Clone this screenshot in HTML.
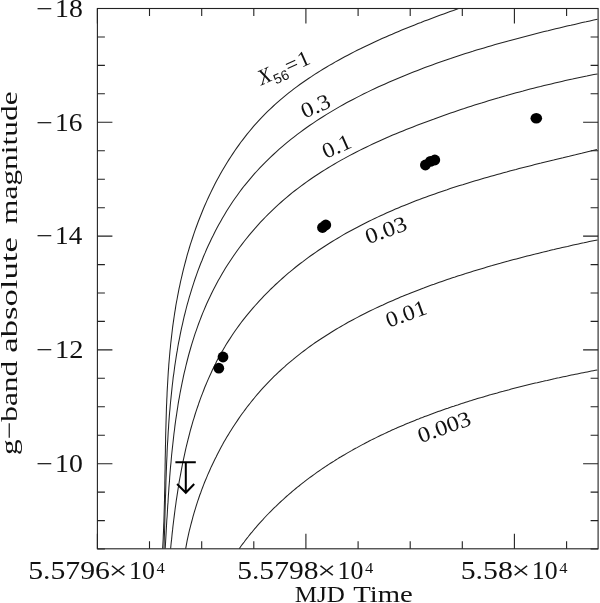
<!DOCTYPE html>
<html><head><meta charset="utf-8"><title>g-band absolute magnitude vs MJD Time</title>
<style>html,body{margin:0;padding:0;background:#fff}svg{display:block}text{font-family:"Liberation Serif","DejaVu Serif",serif;fill:#111}.s{font-family:"Liberation Sans","DejaVu Sans",sans-serif}</style></head><body>
<svg width="600" height="603" viewBox="0 0 600 603">
<rect x="0" y="0" width="600" height="603" fill="#fff"/>
<defs><clipPath id="c"><rect x="97.4" y="8.5" width="500.7" height="540.3"/></clipPath></defs>
<g fill="none" stroke="#222" stroke-width="1.05" clip-path="url(#c)">
<path d="M162.6 548.9 L162.8 545.5 L163.0 542.0 L163.2 538.5 L163.3 535.1 L163.5 531.6 L163.6 528.1 L163.7 524.7 L163.9 521.2 L164.0 517.7 L164.1 514.3 L164.2 510.8 L164.3 507.3 L164.4 503.8 L164.5 500.4 L164.5 496.9 L164.6 493.4 L164.7 489.9 L164.8 486.4 L164.8 483.0 L164.9 479.5 L164.9 476.0 L165.0 472.5 L165.1 469.0 L165.1 465.5 L165.2 462.1 L165.2 458.6 L165.3 455.1 L165.4 451.6 L165.4 448.1 L165.5 444.6 L165.6 441.2 L165.6 437.7 L165.7 434.2 L165.8 430.7 L165.9 427.2 L166.0 423.7 L166.1 420.3 L166.2 416.8 L166.3 413.3 L166.4 409.8 L166.5 406.3 L166.7 402.8 L166.8 399.4 L167.0 395.9 L167.1 392.4 L167.3 388.9 L167.5 385.5 L167.7 382.0 L167.9 378.5 L168.1 375.0 L168.3 371.6 L168.6 368.1 L168.8 364.6 L169.1 361.2 L169.4 357.7 L169.7 354.2 L170.0 350.8 L170.4 347.3 L170.7 343.8 L171.1 340.4 L171.5 336.9 L171.9 333.5 L172.3 330.0 L172.7 326.6 L173.2 323.1 L173.7 319.7 L174.2 316.2 L174.7 312.8 L175.3 309.3 L175.8 305.9 L176.4 302.5 L177.1 299.0 L177.7 295.6 L178.4 292.2 L179.0 288.8 L179.8 285.3 L180.5 281.9 L181.3 278.5 L182.1 275.1 L182.9 271.7 L183.7 268.3 L184.6 264.9 L185.5 261.5 L186.4 258.1 L187.3 254.7 L188.3 251.4 L189.3 248.0 L190.3 244.6 L191.4 241.3 L192.5 238.0 L193.6 234.6 L194.7 231.3 L195.9 228.0 L197.1 224.8 L198.3 221.5 L199.6 218.2 L200.9 215.0 L202.2 211.7 L203.5 208.5 L204.9 205.3 L206.3 202.1 L207.7 198.9 L209.2 195.8 L210.7 192.6 L212.2 189.5 L213.7 186.4 L215.3 183.3 L216.9 180.3 L218.6 177.2 L220.2 174.2 L221.9 171.2 L223.7 168.2 L225.5 165.2 L227.3 162.3 L229.1 159.4 L231.0 156.5 L232.9 153.6 L234.8 150.7 L236.8 147.9 L238.8 145.1 L240.8 142.3 L242.9 139.6 L245.0 136.9 L247.1 134.2 L249.3 131.5 L251.5 128.9 L253.7 126.2 L256.0 123.7 L258.3 121.1 L260.6 118.6 L263.0 116.1 L265.4 113.6 L267.9 111.2 L270.4 108.8 L272.9 106.5 L275.4 104.1 L278.0 101.8 L280.6 99.6 L283.3 97.3 L286.0 95.1 L288.7 92.9 L291.4 90.8 L294.2 88.7 L297.0 86.6 L299.8 84.5 L302.7 82.5 L305.6 80.5 L308.5 78.5 L311.4 76.6 L314.3 74.6 L317.3 72.8 L320.3 70.9 L323.3 69.0 L326.3 67.2 L329.3 65.4 L332.4 63.7 L335.4 61.9 L338.5 60.2 L341.6 58.5 L344.7 56.8 L347.8 55.2 L351.0 53.5 L354.1 51.9 L357.2 50.3 L360.4 48.8 L363.5 47.2 L366.7 45.7 L369.9 44.2 L373.0 42.7 L376.2 41.2 L379.4 39.8 L382.6 38.3 L385.8 36.9 L389.0 35.5 L392.2 34.2 L395.4 32.8 L398.6 31.4 L401.8 30.1 L405.0 28.8 L408.2 27.5 L411.4 26.2 L414.7 24.9 L417.9 23.6 L421.1 22.4 L424.3 21.1 L427.6 19.9 L430.8 18.7 L434.0 17.5 L437.2 16.3 L440.5 15.1 L443.7 13.9 L446.9 12.7 L450.1 11.5 L453.4 10.4 L456.6 9.2 L459.8 8.1 L463.0 6.9 L466.2 5.8 L469.4 4.6"/>
<path d="M164.0 548.8 L164.1 545.0 L164.2 541.1 L164.3 537.3 L164.5 533.4 L164.6 529.6 L164.7 525.7 L164.8 521.8 L164.9 517.9 L165.0 514.1 L165.1 510.2 L165.2 506.3 L165.3 502.4 L165.4 498.5 L165.6 494.6 L165.7 490.7 L165.8 486.8 L165.9 482.9 L166.0 479.0 L166.2 475.1 L166.3 471.2 L166.5 467.2 L166.6 463.3 L166.8 459.4 L167.0 455.5 L167.1 451.6 L167.3 447.7 L167.5 443.8 L167.8 439.9 L168.0 435.9 L168.2 432.0 L168.5 428.1 L168.7 424.2 L169.0 420.3 L169.3 416.4 L169.6 412.5 L170.0 408.6 L170.3 404.7 L170.7 400.8 L171.1 396.9 L171.5 393.0 L171.9 389.1 L172.3 385.2 L172.8 381.3 L173.2 377.4 L173.8 373.6 L174.3 369.7 L174.8 365.8 L175.4 362.0 L176.0 358.1 L176.6 354.2 L177.3 350.4 L177.9 346.5 L178.6 342.7 L179.4 338.9 L180.1 335.1 L180.9 331.2 L181.7 327.4 L182.6 323.6 L183.4 319.8 L184.3 316.0 L185.3 312.2 L186.2 308.5 L187.2 304.7 L188.3 300.9 L189.3 297.2 L190.5 293.4 L191.6 289.7 L192.8 285.9 L194.0 282.2 L195.2 278.5 L196.5 274.8 L197.8 271.1 L199.2 267.5 L200.6 263.8 L202.1 260.2 L203.5 256.5 L205.1 252.9 L206.6 249.3 L208.2 245.8 L209.9 242.2 L211.5 238.7 L213.3 235.2 L215.0 231.7 L216.8 228.2 L218.7 224.8 L220.6 221.4 L222.5 218.0 L224.5 214.7 L226.5 211.3 L228.6 208.0 L230.7 204.8 L232.8 201.5 L235.1 198.3 L237.3 195.2 L239.6 192.0 L241.9 188.9 L244.3 185.8 L246.8 182.8 L249.3 179.8 L251.8 176.9 L254.3 173.9 L257.0 171.0 L259.6 168.2 L262.3 165.4 L265.0 162.6 L267.8 159.9 L270.6 157.1 L273.4 154.5 L276.3 151.8 L279.2 149.2 L282.2 146.7 L285.1 144.2 L288.1 141.7 L291.2 139.2 L294.2 136.8 L297.3 134.4 L300.4 132.1 L303.6 129.8 L306.7 127.5 L309.9 125.3 L313.2 123.1 L316.4 120.9 L319.7 118.8 L322.9 116.7 L326.2 114.6 L329.6 112.6 L332.9 110.6 L336.3 108.6 L339.7 106.6 L343.1 104.7 L346.5 102.8 L349.9 101.0 L353.4 99.2 L356.9 97.4 L360.4 95.6 L363.9 93.8 L367.4 92.1 L370.9 90.4 L374.4 88.7 L378.0 87.1 L381.5 85.5 L385.1 83.9 L388.7 82.3 L392.3 80.7 L395.9 79.2 L399.5 77.7 L403.1 76.2 L406.7 74.7 L410.3 73.3 L414.0 71.8 L417.6 70.4 L421.2 69.0 L424.9 67.6 L428.5 66.3 L432.2 64.9 L435.9 63.6 L439.5 62.3 L443.2 61.0 L446.9 59.7 L450.6 58.5 L454.3 57.2 L458.0 56.0 L461.7 54.8 L465.4 53.6 L469.1 52.4 L472.8 51.3 L476.5 50.1 L480.3 49.0 L484.0 47.9 L487.7 46.8 L491.5 45.7 L495.2 44.6 L499.0 43.5 L502.7 42.5 L506.5 41.4 L510.2 40.4 L514.0 39.4 L517.8 38.4 L521.5 37.4 L525.3 36.4 L529.1 35.4 L532.9 34.4 L536.6 33.5 L540.4 32.5 L544.2 31.6 L548.0 30.7 L551.8 29.7 L555.6 28.8 L559.4 27.9 L563.2 27.0 L567.0 26.1 L570.8 25.3 L574.6 24.4 L578.4 23.5 L582.2 22.6 L586.1 21.8 L589.9 20.9 L593.7 20.1 L597.5 19.3"/>
<path d="M165.2 548.7 L165.4 545.2 L165.6 541.7 L165.8 538.1 L166.0 534.6 L166.2 531.0 L166.4 527.5 L166.6 523.9 L166.8 520.3 L167.1 516.8 L167.3 513.2 L167.5 509.6 L167.7 506.0 L168.0 502.4 L168.2 498.8 L168.4 495.2 L168.7 491.5 L168.9 487.9 L169.2 484.3 L169.5 480.7 L169.7 477.0 L170.0 473.4 L170.3 469.7 L170.6 466.1 L171.0 462.5 L171.3 458.8 L171.6 455.2 L172.0 451.5 L172.4 447.9 L172.8 444.2 L173.2 440.6 L173.6 437.0 L174.0 433.3 L174.5 429.7 L174.9 426.1 L175.4 422.4 L175.9 418.8 L176.5 415.2 L177.0 411.6 L177.6 407.9 L178.1 404.3 L178.7 400.7 L179.4 397.1 L180.0 393.5 L180.7 389.9 L181.4 386.4 L182.1 382.8 L182.9 379.2 L183.6 375.7 L184.4 372.1 L185.3 368.6 L186.1 365.0 L187.0 361.5 L187.9 358.0 L188.8 354.5 L189.8 351.0 L190.8 347.5 L191.8 344.1 L192.9 340.6 L194.0 337.2 L195.1 333.7 L196.3 330.3 L197.5 326.9 L198.7 323.5 L200.0 320.1 L201.3 316.8 L202.6 313.4 L204.0 310.1 L205.4 306.8 L206.8 303.5 L208.3 300.2 L209.9 296.9 L211.4 293.7 L213.0 290.4 L214.7 287.2 L216.4 284.0 L218.1 280.8 L219.9 277.7 L221.7 274.5 L223.5 271.4 L225.4 268.3 L227.3 265.3 L229.3 262.2 L231.3 259.2 L233.3 256.2 L235.4 253.2 L237.5 250.2 L239.7 247.3 L241.9 244.4 L244.1 241.5 L246.3 238.7 L248.6 235.9 L250.9 233.1 L253.3 230.3 L255.7 227.6 L258.1 224.9 L260.5 222.2 L263.0 219.6 L265.5 217.0 L268.1 214.4 L270.7 211.8 L273.3 209.3 L275.9 206.8 L278.6 204.4 L281.3 202.0 L284.0 199.6 L286.7 197.3 L289.5 195.0 L292.3 192.7 L295.1 190.5 L298.0 188.3 L300.9 186.1 L303.8 184.0 L306.7 181.9 L309.7 179.8 L312.6 177.7 L315.6 175.7 L318.7 173.7 L321.7 171.8 L324.8 169.9 L327.8 168.0 L330.9 166.1 L334.1 164.2 L337.2 162.4 L340.3 160.6 L343.5 158.9 L346.7 157.1 L349.9 155.4 L353.1 153.7 L356.4 152.0 L359.6 150.4 L362.9 148.8 L366.1 147.2 L369.4 145.6 L372.7 144.0 L376.0 142.5 L379.4 141.0 L382.7 139.5 L386.0 138.0 L389.4 136.6 L392.7 135.1 L396.1 133.7 L399.5 132.3 L402.9 130.9 L406.2 129.6 L409.6 128.2 L413.0 126.9 L416.4 125.6 L419.8 124.2 L423.2 123.0 L426.7 121.7 L430.1 120.4 L433.5 119.2 L436.9 117.9 L440.3 116.7 L443.7 115.5 L447.2 114.3 L450.6 113.1 L454.0 111.9 L457.4 110.8 L460.9 109.6 L464.3 108.5 L467.7 107.3 L471.2 106.2 L474.6 105.1 L478.1 104.0 L481.5 103.0 L484.9 101.9 L488.4 100.8 L491.9 99.8 L495.3 98.8 L498.8 97.8 L502.2 96.7 L505.7 95.8 L509.2 94.8 L512.7 93.8 L516.1 92.8 L519.6 91.9 L523.1 91.0 L526.6 90.0 L530.1 89.1 L533.6 88.2 L537.1 87.3 L540.6 86.5 L544.1 85.6 L547.7 84.7 L551.2 83.9 L554.7 83.1 L558.3 82.2 L561.8 81.4 L565.3 80.6 L568.9 79.8 L572.5 79.1 L576.0 78.3 L579.6 77.5 L583.2 76.8 L586.8 76.1 L590.3 75.3 L593.9 74.6 L597.5 73.9"/>
<path d="M170.6 548.9 L170.9 545.8 L171.2 542.6 L171.6 539.4 L171.9 536.3 L172.2 533.1 L172.6 529.9 L172.9 526.7 L173.3 523.5 L173.7 520.3 L174.1 517.1 L174.5 513.9 L174.9 510.7 L175.3 507.5 L175.8 504.3 L176.2 501.0 L176.7 497.8 L177.2 494.6 L177.7 491.4 L178.2 488.2 L178.7 485.0 L179.2 481.7 L179.8 478.5 L180.4 475.3 L181.0 472.1 L181.6 468.9 L182.2 465.7 L182.8 462.5 L183.5 459.3 L184.2 456.1 L184.9 452.9 L185.6 449.7 L186.3 446.5 L187.1 443.3 L187.9 440.1 L188.7 437.0 L189.5 433.8 L190.3 430.7 L191.2 427.5 L192.1 424.4 L193.0 421.2 L194.0 418.1 L194.9 415.0 L195.9 411.9 L196.9 408.8 L198.0 405.8 L199.0 402.7 L200.1 399.6 L201.2 396.6 L202.4 393.6 L203.6 390.5 L204.7 387.5 L206.0 384.5 L207.2 381.6 L208.5 378.6 L209.8 375.7 L211.2 372.7 L212.5 369.8 L213.9 366.9 L215.4 364.0 L216.8 361.1 L218.3 358.3 L219.9 355.5 L221.4 352.6 L223.0 349.9 L224.7 347.1 L226.3 344.3 L228.0 341.6 L229.8 338.9 L231.5 336.2 L233.3 333.5 L235.2 330.8 L237.0 328.2 L238.9 325.6 L240.8 323.0 L242.8 320.4 L244.8 317.9 L246.8 315.4 L248.9 312.8 L251.0 310.4 L253.1 307.9 L255.2 305.5 L257.4 303.1 L259.6 300.7 L261.8 298.3 L264.0 295.9 L266.3 293.6 L268.6 291.3 L270.9 289.0 L273.2 286.8 L275.6 284.5 L278.0 282.3 L280.4 280.2 L282.8 278.0 L285.2 275.9 L287.7 273.7 L290.2 271.7 L292.7 269.6 L295.2 267.5 L297.7 265.5 L300.3 263.5 L302.9 261.6 L305.5 259.6 L308.1 257.7 L310.7 255.8 L313.3 254.0 L316.0 252.1 L318.6 250.3 L321.3 248.5 L324.0 246.7 L326.7 245.0 L329.4 243.3 L332.2 241.5 L334.9 239.9 L337.7 238.2 L340.4 236.6 L343.2 234.9 L346.0 233.3 L348.8 231.8 L351.7 230.2 L354.5 228.7 L357.4 227.2 L360.2 225.7 L363.1 224.2 L366.0 222.7 L368.9 221.3 L371.8 219.9 L374.7 218.5 L377.6 217.1 L380.5 215.7 L383.5 214.4 L386.4 213.0 L389.4 211.7 L392.4 210.4 L395.4 209.1 L398.3 207.9 L401.3 206.6 L404.3 205.4 L407.4 204.2 L410.4 203.0 L413.4 201.8 L416.4 200.6 L419.5 199.5 L422.5 198.3 L425.6 197.2 L428.7 196.1 L431.7 195.0 L434.8 193.9 L437.9 192.8 L441.0 191.7 L444.0 190.7 L447.1 189.7 L450.2 188.6 L453.3 187.6 L456.5 186.6 L459.6 185.6 L462.7 184.7 L465.8 183.7 L468.9 182.7 L472.0 181.8 L475.2 180.8 L478.3 179.9 L481.4 179.0 L484.6 178.1 L487.7 177.2 L490.8 176.3 L494.0 175.4 L497.1 174.6 L500.3 173.7 L503.4 172.8 L506.6 172.0 L509.7 171.1 L512.8 170.3 L516.0 169.5 L519.1 168.6 L522.3 167.8 L525.4 167.0 L528.6 166.2 L531.7 165.4 L534.8 164.6 L538.0 163.8 L541.1 163.1 L544.2 162.3 L547.4 161.5 L550.5 160.7 L553.6 160.0 L556.7 159.2 L559.9 158.4 L563.0 157.7 L566.1 156.9 L569.2 156.2 L572.3 155.4 L575.4 154.7 L578.5 153.9 L581.6 153.2 L584.7 152.4 L587.7 151.7 L590.8 151.0 L593.9 150.2 L596.9 149.5"/>
<path d="M185.6 549.0 L186.1 546.3 L186.6 543.6 L187.1 540.9 L187.7 538.2 L188.3 535.4 L188.9 532.7 L189.5 530.0 L190.2 527.3 L190.9 524.6 L191.6 522.0 L192.3 519.3 L193.0 516.6 L193.8 513.9 L194.6 511.2 L195.4 508.6 L196.2 505.9 L197.0 503.3 L197.9 500.6 L198.8 498.0 L199.7 495.3 L200.7 492.7 L201.6 490.1 L202.6 487.5 L203.6 484.9 L204.6 482.3 L205.7 479.7 L206.8 477.1 L207.8 474.6 L209.0 472.0 L210.1 469.5 L211.2 466.9 L212.4 464.4 L213.6 461.9 L214.8 459.4 L216.1 456.9 L217.3 454.4 L218.6 451.9 L219.9 449.5 L221.2 447.0 L222.6 444.6 L223.9 442.1 L225.3 439.7 L226.7 437.3 L228.2 434.9 L229.6 432.5 L231.1 430.2 L232.6 427.8 L234.1 425.5 L235.6 423.2 L237.2 420.9 L238.7 418.6 L240.3 416.3 L241.9 414.0 L243.6 411.8 L245.2 409.6 L246.9 407.3 L248.6 405.1 L250.3 403.0 L252.0 400.8 L253.8 398.7 L255.5 396.5 L257.3 394.4 L259.1 392.3 L261.0 390.2 L262.8 388.2 L264.7 386.1 L266.6 384.1 L268.5 382.1 L270.4 380.1 L272.4 378.1 L274.3 376.2 L276.3 374.3 L278.3 372.4 L280.4 370.5 L282.4 368.6 L284.5 366.8 L286.5 364.9 L288.6 363.1 L290.8 361.3 L292.9 359.6 L295.0 357.8 L297.2 356.1 L299.4 354.4 L301.6 352.7 L303.8 351.0 L306.0 349.3 L308.2 347.7 L310.5 346.0 L312.8 344.4 L315.0 342.8 L317.3 341.3 L319.6 339.7 L321.9 338.2 L324.3 336.7 L326.6 335.2 L329.0 333.7 L331.3 332.2 L333.7 330.7 L336.1 329.3 L338.5 327.9 L340.9 326.5 L343.3 325.1 L345.7 323.7 L348.1 322.3 L350.6 321.0 L353.0 319.7 L355.5 318.4 L357.9 317.1 L360.4 315.8 L362.9 314.5 L365.4 313.2 L367.8 312.0 L370.3 310.8 L372.8 309.6 L375.3 308.4 L377.8 307.2 L380.4 306.0 L382.9 304.9 L385.4 303.7 L387.9 302.6 L390.4 301.5 L393.0 300.4 L395.5 299.3 L398.1 298.2 L400.6 297.1 L403.2 296.1 L405.7 295.0 L408.3 294.0 L410.8 292.9 L413.4 291.9 L416.0 290.9 L418.6 289.9 L421.1 288.9 L423.7 288.0 L426.3 287.0 L428.9 286.0 L431.5 285.1 L434.1 284.2 L436.7 283.2 L439.3 282.3 L441.9 281.4 L444.6 280.5 L447.2 279.6 L449.8 278.7 L452.4 277.8 L455.1 277.0 L457.7 276.1 L460.4 275.3 L463.0 274.4 L465.6 273.6 L468.3 272.7 L470.9 271.9 L473.6 271.1 L476.3 270.3 L478.9 269.5 L481.6 268.7 L484.2 267.9 L486.9 267.1 L489.6 266.3 L492.2 265.6 L494.9 264.8 L497.6 264.0 L500.3 263.3 L502.9 262.5 L505.6 261.8 L508.3 261.1 L511.0 260.3 L513.7 259.6 L516.4 258.9 L519.0 258.2 L521.7 257.5 L524.4 256.8 L527.1 256.1 L529.8 255.4 L532.5 254.7 L535.2 254.1 L537.9 253.4 L540.6 252.7 L543.3 252.1 L546.0 251.4 L548.7 250.8 L551.4 250.1 L554.1 249.5 L556.8 248.8 L559.5 248.2 L562.2 247.6 L564.9 247.0 L567.6 246.4 L570.3 245.7 L573.1 245.1 L575.8 244.5 L578.5 243.9 L581.2 243.3 L583.9 242.8 L586.6 242.2 L589.3 241.6 L592.0 241.0 L594.7 240.4 L597.5 239.9"/>
<path d="M239.2 548.8 L240.4 547.0 L241.6 545.3 L242.9 543.6 L244.2 542.0 L245.4 540.3 L246.7 538.6 L248.0 537.0 L249.3 535.3 L250.6 533.7 L252.0 532.1 L253.3 530.5 L254.6 528.9 L256.0 527.3 L257.4 525.7 L258.7 524.2 L260.1 522.6 L261.5 521.1 L262.9 519.6 L264.3 518.0 L265.7 516.5 L267.1 515.0 L268.6 513.5 L270.0 512.1 L271.5 510.6 L272.9 509.2 L274.4 507.7 L275.9 506.3 L277.4 504.8 L278.9 503.4 L280.4 502.0 L281.9 500.6 L283.4 499.3 L284.9 497.9 L286.4 496.5 L288.0 495.2 L289.5 493.8 L291.1 492.5 L292.6 491.2 L294.2 489.8 L295.8 488.5 L297.4 487.2 L299.0 486.0 L300.6 484.7 L302.2 483.4 L303.8 482.2 L305.4 480.9 L307.0 479.7 L308.7 478.4 L310.3 477.2 L312.0 476.0 L313.6 474.8 L315.3 473.6 L316.9 472.4 L318.6 471.3 L320.3 470.1 L322.0 468.9 L323.7 467.8 L325.4 466.6 L327.1 465.5 L328.8 464.4 L330.5 463.3 L332.2 462.2 L334.0 461.1 L335.7 460.0 L337.5 458.9 L339.2 457.8 L341.0 456.8 L342.7 455.7 L344.5 454.7 L346.3 453.6 L348.0 452.6 L349.8 451.6 L351.6 450.6 L353.4 449.5 L355.2 448.5 L357.0 447.6 L358.8 446.6 L360.6 445.6 L362.4 444.6 L364.2 443.7 L366.0 442.7 L367.9 441.8 L369.7 440.8 L371.5 439.9 L373.4 439.0 L375.2 438.1 L377.1 437.1 L378.9 436.2 L380.8 435.3 L382.7 434.5 L384.5 433.6 L386.4 432.7 L388.3 431.8 L390.2 431.0 L392.0 430.1 L393.9 429.3 L395.8 428.4 L397.7 427.6 L399.6 426.8 L401.5 426.0 L403.4 425.2 L405.3 424.3 L407.2 423.5 L409.1 422.8 L411.0 422.0 L413.0 421.2 L414.9 420.4 L416.8 419.6 L418.7 418.9 L420.7 418.1 L422.6 417.4 L424.5 416.6 L426.5 415.9 L428.4 415.2 L430.3 414.4 L432.3 413.7 L434.2 413.0 L436.2 412.3 L438.1 411.6 L440.1 410.9 L442.0 410.2 L444.0 409.5 L445.9 408.8 L447.9 408.2 L449.8 407.5 L451.8 406.8 L453.8 406.2 L455.7 405.5 L457.7 404.9 L459.7 404.2 L461.6 403.6 L463.6 402.9 L465.6 402.3 L467.5 401.7 L469.5 401.1 L471.5 400.5 L473.5 399.8 L475.4 399.2 L477.4 398.6 L479.4 398.0 L481.4 397.5 L483.4 396.9 L485.4 396.3 L487.3 395.7 L489.3 395.1 L491.3 394.6 L493.3 394.0 L495.3 393.4 L497.3 392.9 L499.3 392.3 L501.2 391.8 L503.2 391.3 L505.2 390.7 L507.2 390.2 L509.2 389.7 L511.2 389.1 L513.2 388.6 L515.2 388.1 L517.2 387.6 L519.2 387.1 L521.2 386.6 L523.2 386.1 L525.2 385.6 L527.2 385.1 L529.2 384.6 L531.2 384.1 L533.2 383.6 L535.2 383.1 L537.2 382.7 L539.2 382.2 L541.2 381.7 L543.2 381.3 L545.2 380.8 L547.2 380.4 L549.2 379.9 L551.2 379.4 L553.2 379.0 L555.2 378.6 L557.2 378.1 L559.2 377.7 L561.2 377.2 L563.2 376.8 L565.3 376.4 L567.3 376.0 L569.3 375.5 L571.3 375.1 L573.3 374.7 L575.3 374.3 L577.3 373.9 L579.3 373.5 L581.3 373.1 L583.3 372.7 L585.3 372.3 L587.3 371.9 L589.3 371.5 L591.3 371.1 L593.3 370.7 L595.3 370.3 L597.3 369.9"/>
</g>
<g fill="none" stroke="#222" stroke-width="1.1">
<rect x="97.4" y="8.5" width="500.7" height="540.3"/>
<path d="M97.4 8.5v15.0 M97.4 548.8v-15.0 M149.5 8.5v7.5 M149.5 548.8v-7.5 M201.7 8.5v7.5 M201.7 548.8v-7.5 M253.8 8.5v7.5 M253.8 548.8v-7.5 M305.9 8.5v15.0 M305.9 548.8v-15.0 M358.1 8.5v7.5 M358.1 548.8v-7.5 M410.2 8.5v7.5 M410.2 548.8v-7.5 M462.3 8.5v7.5 M462.3 548.8v-7.5 M514.4 8.5v15.0 M514.4 548.8v-15.0 M566.6 8.5v7.5 M566.6 548.8v-7.5 M97.4 8.5h15.0 M598.1 8.5h-15.0 M97.4 37.0h7.5 M598.1 37.0h-7.5 M97.4 65.4h7.5 M598.1 65.4h-7.5 M97.4 93.8h7.5 M598.1 93.8h-7.5 M97.4 122.3h15.0 M598.1 122.3h-15.0 M97.4 150.8h7.5 M598.1 150.8h-7.5 M97.4 179.2h7.5 M598.1 179.2h-7.5 M97.4 207.7h7.5 M598.1 207.7h-7.5 M97.4 236.1h15.0 M598.1 236.1h-15.0 M97.4 264.6h7.5 M598.1 264.6h-7.5 M97.4 293.0h7.5 M598.1 293.0h-7.5 M97.4 321.4h7.5 M598.1 321.4h-7.5 M97.4 349.9h15.0 M598.1 349.9h-15.0 M97.4 378.3h7.5 M598.1 378.3h-7.5 M97.4 406.8h7.5 M598.1 406.8h-7.5 M97.4 435.2h7.5 M598.1 435.2h-7.5 M97.4 463.7h15.0 M598.1 463.7h-15.0 M97.4 492.1h7.5 M598.1 492.1h-7.5 M97.4 520.6h7.5 M598.1 520.6h-7.5 M97.4 549.0h7.5 M598.1 549.0h-7.5 "/>
</g>
<g fill="#000"><circle cx="223.0" cy="357.0" r="5.4"/><circle cx="218.8" cy="368.2" r="5.4"/><circle cx="322.5" cy="227.5" r="5.4"/><circle cx="325.8" cy="225.0" r="5.4"/><circle cx="425.4" cy="165.0" r="5.4"/><circle cx="430.4" cy="161.4" r="5.4"/><circle cx="434.8" cy="160.0" r="5.4"/><ellipse cx="536.3" cy="118.2" rx="5.8" ry="5.3"/></g>
<path d="M175.4 462.3H195.8M185.8 462.3V492.5M177.1 484L185.8 492.7L194.2 484" fill="none" stroke="#000" stroke-width="2"/>
<text x="36.29" y="16.7" font-size="24.4" textLength="16.64" lengthAdjust="spacingAndGlyphs">−</text>
<text x="55.04" y="16.7" font-size="24.4" textLength="27.78" lengthAdjust="spacingAndGlyphs">18</text>
<text x="36.29" y="130.5" font-size="24.4" textLength="16.64" lengthAdjust="spacingAndGlyphs">−</text>
<text x="55.07" y="130.5" font-size="24.4" textLength="27.45" lengthAdjust="spacingAndGlyphs">16</text>
<text x="36.29" y="244.3" font-size="24.4" textLength="16.64" lengthAdjust="spacingAndGlyphs">−</text>
<text x="55.10" y="244.3" font-size="24.4" textLength="27.14" lengthAdjust="spacingAndGlyphs">14</text>
<text x="36.29" y="358.1" font-size="24.4" textLength="16.64" lengthAdjust="spacingAndGlyphs">−</text>
<text x="54.98" y="358.1" font-size="24.4" textLength="28.45" lengthAdjust="spacingAndGlyphs">12</text>
<text x="36.29" y="471.9" font-size="24.4" textLength="16.64" lengthAdjust="spacingAndGlyphs">−</text>
<text x="55.04" y="471.9" font-size="24.4" textLength="27.78" lengthAdjust="spacingAndGlyphs">10</text>
<text x="28.17" y="579.4" font-size="24.4" textLength="81.84" lengthAdjust="spacingAndGlyphs">5.5796</text>
<text x="108.77" y="579.4" font-size="24.4" textLength="18.78" lengthAdjust="spacingAndGlyphs">×</text>
<text x="129.12" y="579.4" font-size="24.4" textLength="25.83" lengthAdjust="spacingAndGlyphs">10</text>
<text x="156.51" y="573.2" font-size="14.5" textLength="8.27" lengthAdjust="spacingAndGlyphs">4</text>
<text x="237.18" y="579.4" font-size="24.4" textLength="81.32" lengthAdjust="spacingAndGlyphs">5.5798</text>
<text x="317.27" y="579.4" font-size="24.4" textLength="18.78" lengthAdjust="spacingAndGlyphs">×</text>
<text x="337.62" y="579.4" font-size="24.4" textLength="25.83" lengthAdjust="spacingAndGlyphs">10</text>
<text x="365.01" y="573.2" font-size="14.5" textLength="8.27" lengthAdjust="spacingAndGlyphs">4</text>
<text x="460.67" y="579.4" font-size="24.4" textLength="52.18" lengthAdjust="spacingAndGlyphs">5.58</text>
<text x="511.47" y="579.4" font-size="24.4" textLength="18.78" lengthAdjust="spacingAndGlyphs">×</text>
<text x="531.82" y="579.4" font-size="24.4" textLength="25.83" lengthAdjust="spacingAndGlyphs">10</text>
<text x="559.21" y="573.2" font-size="14.5" textLength="8.27" lengthAdjust="spacingAndGlyphs">4</text>
<text x="294.72" y="601.9" font-size="24" textLength="50.09" lengthAdjust="spacingAndGlyphs">MJD</text>
<text x="353.15" y="601.9" font-size="24" textLength="59.57" lengthAdjust="spacingAndGlyphs">Time</text>
<text transform="translate(16.7 454.90) rotate(-90)" font-size="24" textLength="93.95" lengthAdjust="spacingAndGlyphs">g−band</text>
<text transform="translate(16.7 352.68) rotate(-90)" font-size="24" textLength="115.54" lengthAdjust="spacingAndGlyphs">absolute</text>
<text transform="translate(16.7 223.95) rotate(-90)" font-size="24" textLength="132.52" lengthAdjust="spacingAndGlyphs">magnitude</text>
<text transform="translate(261.3 85.6) rotate(-24)" font-size="22"><tspan font-style="italic">X</tspan><tspan class="s" font-size="14" dy="5" dx="0.5">56</tspan><tspan dy="-5" dx="0.5">=</tspan><tspan dx="1.5">1</tspan></text>
<text transform="translate(304.8 118.8) rotate(-24.0)" font-size="22" textLength="30.0" lengthAdjust="spacingAndGlyphs">0.3</text>
<text transform="translate(326.0 159.0) rotate(-24.0)" font-size="22" textLength="29.5" lengthAdjust="spacingAndGlyphs">0.1</text>
<text transform="translate(368.2 244.3) rotate(-20.0)" font-size="22" textLength="43.0" lengthAdjust="spacingAndGlyphs">0.03</text>
<text transform="translate(388.7 327.8) rotate(-20.0)" font-size="22" textLength="42.0" lengthAdjust="spacingAndGlyphs">0.01</text>
<text transform="translate(420.7 443.3) rotate(-20.0)" font-size="22" textLength="55.0" lengthAdjust="spacingAndGlyphs">0.003</text>
</svg></body></html>
